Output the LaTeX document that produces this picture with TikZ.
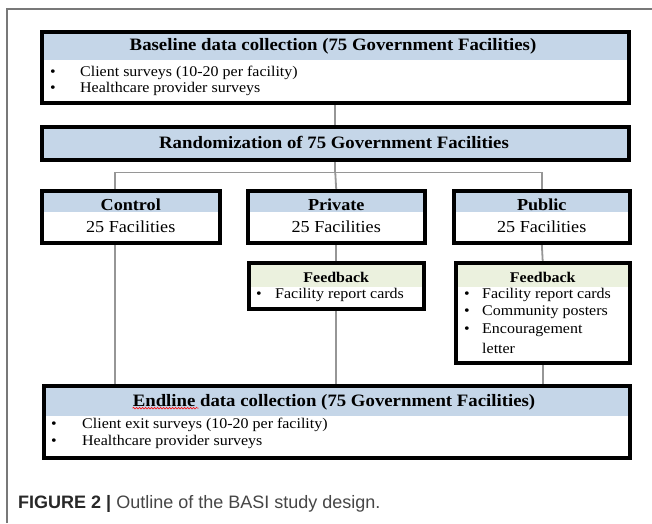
\documentclass[tikz,border=0pt]{standalone}
\usepackage{fontspec}
\setmainfont[FakeStretch=1.08]{Liberation Serif}
\newfontfamily\capfont{Liberation Sans}
\usetikzlibrary{decorations.pathmorphing}
\definecolor{hdrblue}{RGB}{197,214,232}
\definecolor{hdrgreen}{RGB}{235,241,222}
\definecolor{conngray}{RGB}{150,150,150}
\definecolor{framegray}{RGB}{120,120,120}
\definecolor{capdark}{RGB}{40,40,40}
\definecolor{caplight}{RGB}{70,70,70}
\begin{document}
\begin{tikzpicture}[x=1pt,y=-1pt,
  box/.style={draw=black, line width=2.5pt, fill=white, anchor=north west, inner sep=0pt},
  hdrbox/.style n args={2}{box, path picture={\fill[#1] (path picture bounding box.north west) rectangle ([yshift=-#2]path picture bounding box.north east);}},
  conn/.style={draw=conngray, line width=1.8pt},
  ttl/.style={font=\fontsize{17.4}{20}\selectfont\bfseries, inner sep=0pt},
  mid/.style={font=\fontsize{16.8}{19}\selectfont, inner sep=0pt},
  midb/.style={font=\fontsize{16.8}{19}\selectfont\bfseries, inner sep=0pt},
  fbt/.style={font=\fontsize{14.8}{17}\selectfont\bfseries, inner sep=0pt},
  btx/.style={font=\fontsize{14.8}{17}\selectfont, inner sep=0pt, anchor=west},
  bul/.style={font=\fontsize{14.8}{17}\selectfont, inner sep=0pt},
]
\useasboundingbox (0,0) rectangle (652,523);
\fill[white] (0,0) rectangle (652,523);
% outer frame
\draw[framegray, line width=1.5pt] (7,523) -- (7,9) -- (652,9);

% boxes
\node[hdrbox={hdrblue}{28pt}, minimum width=586pt, minimum height=70pt] (base) at (41,31) {};
\node[hdrbox={hdrblue}{32pt}, minimum width=586pt, minimum height=32pt] (rand) at (41,126) {};
\node[hdrbox={hdrblue}{21pt}, minimum width=177pt, minimum height=51pt] (ctrl) at (41,190) {};
\node[hdrbox={hdrblue}{21pt}, minimum width=176pt, minimum height=51pt] (priv) at (247,190) {};
\node[hdrbox={hdrblue}{21pt}, minimum width=175pt, minimum height=51pt] (publ) at (453,190) {};
\node[hdrbox={hdrgreen}{24pt}, minimum width=174pt, minimum height=45pt] (fbpriv) at (248,262) {};
\node[hdrbox={hdrgreen}{24pt}, minimum width=173pt, minimum height=99pt] (fbpubl) at (455,262) {};
\node[hdrbox={hdrblue}{30pt}, minimum width=585pt, minimum height=71pt] (endl) at (43,385) {};

% connectors
\draw[conn] (base.south) -- (rand.north);
\coordinate (split) at ([yshift=-12pt]rand.south);
\draw[conn] (rand.south) -- (split);
\draw[conn] ([xshift=-16pt]ctrl.north) |- (split) -| (publ.north);
\draw[conn] (split) -- (priv.north);
\draw[conn] (priv.south) -- (fbpriv.north);
\draw[conn] (publ.south) -- (fbpubl.north);
\draw[conn] ([xshift=-16pt]ctrl.south) -- ([xshift=-16pt]ctrl.south |- endl.north);
\draw[conn] (fbpriv.south) -- (fbpriv.south |- endl.north);
\draw[conn] (fbpubl.south) -- (fbpubl.south |- endl.north);
% redraw box borders over connector ends
\foreach \b in {base,rand,ctrl,priv,publ,fbpriv,fbpubl,endl}{\draw[black, line width=2.5pt] (\b.north west) rectangle (\b.south east);}

% texts
\node[ttl] (tbase) at (333,46) {Baseline data collection (75 Government Facilities)};
\node[bul] (b1) at (53,73) {•};
\node[btx] (l1) at (80,73) {Client surveys (10-20 per facility)};
\node[bul] (b2) at (53,89) {•};
\node[btx] (l2) at (80,89) {Healthcare provider surveys};

\node[ttl] (trand) at (334,142) {Randomization of 75 Government Facilities};

\node[midb] (tc1) at (ctrl.north |- 0,205) {Control};
\node[mid] (tc2) at (ctrl.north |- 0,227) {25 Facilities};
\node[midb] (tp1) at (priv.north |- 0,205) {Private};
\node[mid] (tp2) at (priv.north |- 0,227) {25 Facilities};
\node[midb] (tu1) at (publ.north |- 0,205) {Public};
\node[mid] (tu2) at (publ.north |- 0,227) {25 Facilities};

\node[fbt] (fp1) at (fbpriv.north |- 0,277) {Feedback};
\node[bul] (fpb) at (259,295) {•};
\node[btx] (fpl) at (275,295) {Facility report cards};

\node[fbt] (fu1) at (fbpubl.north |- 0,277) {Feedback};
\node[bul] (fub1) at (467,295) {•};
\node[btx] (ful1) at (482,295) {Facility report cards};
\node[bul] (fub2) at (467,312) {•};
\node[btx] (ful2) at (482,312) {Community posters};
\node[bul] (fub3) at (467,330) {•};
\node[btx] (ful3) at (482,330) {Encouragement};
\node[btx] (ful4) at (482,348) {letter};

\node[ttl] (tend) at (334,402) {Endline data collection (75 Government Facilities)};
\draw[red, line width=0.6pt, decorate, decoration={snake, amplitude=0.8pt, segment length=3pt}] ([yshift=-2pt]tend.base west) -- ++(66,0);
\node[bul] (e1) at (54,425) {•};
\node[btx] (el1) at (82,425) {Client exit surveys (10-20 per facility)};
\node[bul] (e2) at (54,442) {•};
\node[btx] (el2) at (82,442) {Healthcare provider surveys};

% caption
\node[anchor=base west, inner sep=0pt, font=\capfont\fontsize{18}{21}\selectfont] (cap) at (18,508)
  {\textcolor{capdark}{\bfseries FIGURE 2 |} \textcolor{caplight}{Outline of the BASI study design.}};
\end{tikzpicture}
\end{document}
